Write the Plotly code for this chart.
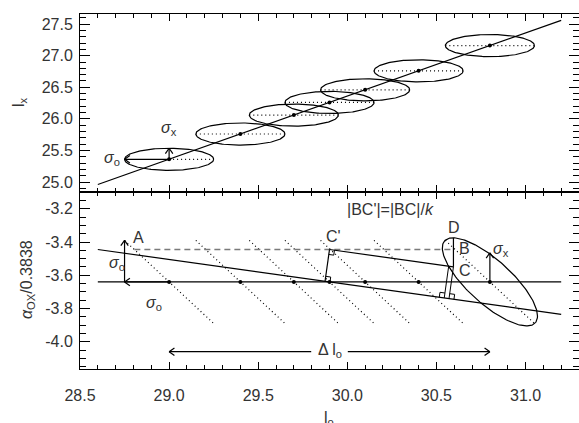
import numpy as np
import plotly.graph_objects as go

# ---------------------------------------------------------------- data
LO = [29.0, 29.4, 29.7, 29.9, 30.1, 30.4, 30.8]          # l_o of the sources
LX = [25.36, 25.76, 26.06, 26.26, 26.46, 26.76, 27.16]   # l_x of the sources
SIG_O = 0.25        # error on l_o
SIG_X = 0.175       # error on l_x
LINE_SPAN = [28.6, 31.2]       # extent of the drawn relations
FIT_SLOPE_BOT = -0.15          # slope of the alpha_ox / l_o regression
DASH_LEVEL = -3.445            # level of the dashed guide line
ELL_SEMI_LO = 0.267            # semi-axis of the tilted ellipse along l_o
ELL_SHEAR = 0.205              # tilt of the ellipse in alpha_ox / 0.3838
ELL_SEMI_X = 0.168             # l_x half-height of the tilted ellipse
DELTA_Y = -4.06                # level of the Delta l_o arrow

X_TICKS = [28.5, 29.0, 29.5, 30.0, 30.5, 31.0]
X_TICKTEXT = ["28.5", "29.0", "29.5", "30.0", "30.5", "31.0"]
YT_TICKS = [25.0, 25.5, 26.0, 26.5, 27.0, 27.5]
YT_TICKTEXT = ["25.0", "25.5", "26.0", "26.5", "27.0", "27.5"]
YB_TICKS = [-4.0, -3.8, -3.6, -3.4, -3.2]
YB_TICKTEXT = ["-4.0", "-3.8", "-3.6", "-3.4", "-3.2"]

# ---------------------------------------------------------------- layout geometry
W, H = 579, 423
ML, MR, MT, MB = 80, 0, 14, 54
PW, PH = W - ML - MR, H - MT - MB
XR = [28.5, 31.3]
YR_TOP = [24.85, 27.66]
YR_BOT = [-4.164, -3.096]

FONT = "Liberation Sans, Arial, sans-serif"
TXT = "#333333"
LW = 1.2


def xpx(x):
    return ML + (x - XR[0]) / (XR[1] - XR[0]) * PW


def pxx(p):
    return XR[0] + (p - ML) / PW * (XR[1] - XR[0])


def _panel(panel):
    if panel == "top":
        return YR_TOP, MT
    return YR_BOT, MT + PH / 2


def ypx(y, panel):
    (lo, hi), top = _panel(panel)
    return top + (hi - y) / (hi - lo) * (PH / 2)


def pxy(p, panel):
    (lo, hi), top = _panel(panel)
    return hi - (p - top) / (PH / 2) * (hi - lo)


def to_px(pt, panel):
    return np.array([xpx(pt[0]), ypx(pt[1], panel)])


def to_data(p, panel):
    return (pxx(p[0]), pxy(p[1], panel))


def arrow(p0, p1, panel, head=6.5, ang=np.radians(35)):
    """Shaft from p0 to p1 with an open arrowhead at p1 (data coords)."""
    a, b = to_px(p0, panel), to_px(p1, panel)
    d = (b - a) / np.linalg.norm(b - a)
    xs, ys = [p0[0], p1[0], None], [p0[1], p1[1], None]
    for s in (1, -1):
        c, sn = np.cos(s * ang), np.sin(s * ang)
        r = np.array([d[0] * c - d[1] * sn, d[0] * sn + d[1] * c])
        q = to_data(b - head * r, panel)
        xs += [p1[0], q[0], None]
        ys += [p1[1], q[1], None]
    return xs, ys


def right_angle(corner_px, u, v, panel, s=5.0):
    pts = [corner_px + s * u, corner_px + s * u + s * v, corner_px + s * v]
    dd = [to_data(p, panel) for p in pts]
    return [q[0] for q in dd] + [None], [q[1] for q in dd] + [None]


def seg(x0, y0, x1, y1):
    return [x0, x1, None], [y0, y1, None]


def add_line(fig, xs, ys, panel, color="black", width=LW, dash="solid"):
    xa, ya = ("x", "y") if panel == "top" else ("x2", "y2")
    fig.add_trace(go.Scatter(x=xs, y=ys, mode="lines", xaxis=xa, yaxis=ya,
                             line=dict(color=color, width=width, dash=dash),
                             hoverinfo="skip", showlegend=False))


fig = go.Figure()

lo = np.array(LO)
lx = np.array(LX)
aox = lx - lo                       # alpha_ox / 0.3838 = l_x - l_o
lo_mean, aox_mean = lo.mean(), aox.mean()
offset = aox_mean
t = np.linspace(0, 2 * np.pi, 181)

# ================================================================ top panel
span = np.array(LINE_SPAN)
add_line(fig, list(span), list(span + offset), "top")

ex, ey = [], []
for xo, yx in zip(LO, LX):
    ex += list(xo + SIG_O * np.cos(t)) + [None]
    ey += list(yx + SIG_X * np.sin(t)) + [None]
add_line(fig, ex, ey, "top")

dx, dy = [], []
for i, (xo, yx) in enumerate(zip(LO, LX)):
    x0 = xo if i == 0 else xo - SIG_O
    sx, sy = seg(x0, yx, xo + SIG_O, yx)
    dx += sx
    dy += sy
add_line(fig, dx, dy, "top", dash="1px,3px")

ax_, ay_ = arrow((LO[0], LX[0]), (LO[0] - SIG_O, LX[0]), "top")
add_line(fig, ax_, ay_, "top")
ax_, ay_ = arrow((LO[0], LX[0]), (LO[0], LX[0] + SIG_X), "top")
add_line(fig, ax_, ay_, "top")

fig.add_trace(go.Scatter(x=LO, y=LX, mode="markers", xaxis="x", yaxis="y",
                         marker=dict(color="black", size=4), hoverinfo="skip",
                         showlegend=False))

# ================================================================ bottom panel
def fit_bot(x):
    return aox_mean + FIT_SLOPE_BOT * (x - lo_mean)


def upper_line(x, x_start):
    return DASH_LEVEL + FIT_SLOPE_BOT * (x - x_start)


add_line(fig, list(span), [aox_mean, aox_mean], "bot")
add_line(fig, list(span), [fit_bot(span[0]), fit_bot(span[1])], "bot")

# slanted dotted tracks: a shift in l_o moves the point along slope -1
dx, dy = [], []
for xo, a in zip(LO, aox):
    sx, sy = seg(xo - SIG_O, a + SIG_O, xo + SIG_O, a - SIG_O)
    dx += sx
    dy += sy
add_line(fig, dx, dy, "bot", dash="1px,3px")

# tilted error ellipse of the last source
xc, ac = LO[-1], aox[-1]
ell_x = xc + ELL_SEMI_LO * np.cos(t)
ell_y = ac - ELL_SHEAR * np.cos(t) + ELL_SEMI_X * np.sin(t)
add_line(fig, list(ell_x), list(ell_y), "bot")

# top of the ellipse (D)
i_top = int(np.argmax(ell_y))
x_d, y_d = ell_x[i_top], ell_y[i_top]

# dashed guide from the first track to B
x_dash0 = LO[0] - (DASH_LEVEL - aox[0])
add_line(fig, [x_dash0, x_d], [DASH_LEVEL, DASH_LEVEL], "bot",
         color="#7a7a7a", width=1.6, dash="6px,4px")

# C' and the line parallel to the regression through it
x_cp = lo_mean
y_c = upper_line(x_d, x_cp)
add_line(fig, [x_cp, x_d], [DASH_LEVEL, y_c], "bot")

# where the parallel line crosses the ellipse edge (C)
mask = (np.cos(t) < 0) & (np.sin(t) < 0)
diff = ell_y - upper_line(ell_x, x_cp)
cand = np.where(mask)[0]
i_c = cand[np.argmin(np.abs(diff[cand]))]
x_c_ell = ell_x[i_c]
y_c_ell = upper_line(x_c_ell, x_cp)

# vertical D -> B -> C
add_line(fig, [x_d, x_d], [y_d, y_c], "bot")

# regression direction in pixel space
f1 = to_px((span[0], fit_bot(span[0])), "bot")
f2 = to_px((span[1], fit_bot(span[1])), "bot")
e_fit = (f2 - f1) / np.linalg.norm(f2 - f1)


def foot(p_px):
    return f1 + np.dot(p_px - f1, e_fit) * e_fit


# perpendicular from C' to the regression, with right-angle marks
cp_px = to_px((x_cp, DASH_LEVEL), "bot")
fcp = foot(cp_px)
qx, qy = to_data(fcp, "bot")
add_line(fig, [x_cp, qx], [DASH_LEVEL, qy], "bot")
up = (cp_px - fcp) / np.linalg.norm(cp_px - fcp)
sq_x, sq_y = right_angle(cp_px, e_fit, -up, "bot")
s2x, s2y = right_angle(fcp, e_fit, up, "bot")
add_line(fig, sq_x + s2x, sq_y + s2y, "bot", width=1.0)

# perpendiculars from C to the regression
pxs, pys = [], []
for (sx0, sy0), side in (((x_c_ell, y_c_ell), -1), ((x_d, y_c), 1)):
    p = to_px((sx0, sy0), "bot")
    f = foot(p)
    qx, qy = to_data(f, "bot")
    pxs += [sx0, qx, None]
    pys += [sy0, qy, None]
    upv = (p - f) / np.linalg.norm(p - f)
    rx, ry = right_angle(f, side * e_fit, upv, "bot")
    pxs += rx
    pys += ry
add_line(fig, pxs, pys, "bot", width=1.0)

# sigma arrows
x_a = LO[0] - SIG_O
ax_, ay_ = arrow((x_a, aox[0]), (x_a, aox[0] + SIG_O), "bot")
add_line(fig, ax_, ay_, "bot")
ax_, ay_ = arrow((LO[0], aox[0]), (x_a, aox[0]), "bot")
add_line(fig, ax_, ay_, "bot")
ax_, ay_ = arrow((LO[-1], aox[-1]), (LO[-1], aox[-1] + SIG_X), "bot")
add_line(fig, ax_, ay_, "bot")

# Delta l_o arrow, broken around its label
gap = pxx(ML + 18.3) - XR[0]
ax1, ay1 = arrow((lo_mean - gap, DELTA_Y), (LO[0], DELTA_Y), "bot")
ax2, ay2 = arrow((lo_mean + gap, DELTA_Y), (LO[-1], DELTA_Y), "bot")
add_line(fig, ax1 + ax2, ay1 + ay2, "bot")

fig.add_trace(go.Scatter(x=LO, y=list(aox), mode="markers", xaxis="x2", yaxis="y2",
                         marker=dict(color="black", size=4), hoverinfo="skip",
                         showlegend=False))

# ================================================================ text
ann = []


def label(text, x, y, panel, xs=0, ys=0, size=16, xanchor="center", yanchor="middle"):
    xa, ya = ("x", "y") if panel == "top" else ("x2", "y2")
    ann.append(dict(text=text, x=x, y=y, xref=xa, yref=ya, showarrow=False,
                    xshift=xs, yshift=ys, xanchor=xanchor, yanchor=yanchor,
                    font=dict(family=FONT, size=size, color=TXT)))


SIG_O_TXT = "<i>σ</i><sub>o</sub>"
SIG_X_TXT = "<i>σ</i><sub>x</sub>"

label(SIG_O_TXT, LO[0] - SIG_O, LX[0], "top", xs=-3, ys=1, xanchor="right")
label(SIG_X_TXT, LO[0], LX[0] + SIG_X, "top", xs=0, ys=20)

label("A", x_a, aox[0] + SIG_O, "bot", xs=14, ys=3)
label(SIG_O_TXT, x_a, aox[0] + SIG_O / 2, "bot", xs=-8, ys=-2)
label(SIG_O_TXT, LO[0], aox[0], "bot", xs=-15, ys=-22)
label("C'", x_cp, DASH_LEVEL, "bot", xs=4, ys=13)
label("D", x_d, y_d, "bot", xs=1, ys=10)
label("B", x_d, DASH_LEVEL, "bot", xs=11, ys=1)
label("C", x_d, y_c, "bot", xs=12, ys=-4)
label(SIG_X_TXT, LO[-1], aox[-1] + SIG_X, "bot", xs=11, ys=3)
label("|BC'|=|BC|/<i>k</i>", lo_mean + 0.34, YR_BOT[1], "bot", ys=-18)
label("Δ l<sub>o</sub>", lo_mean, DELTA_Y, "bot", ys=1)


def paper_label(text, px, py, size=16, angle=0):
    ann.append(dict(text=text, x=(px - ML) / PW, y=1 - (py - MT) / PH,
                    xref="paper", yref="paper", showarrow=False, textangle=angle,
                    xanchor="center", yanchor="middle",
                    font=dict(family=FONT, size=size, color=TXT)))


paper_label("l<sub>x</sub>", 19, 102, angle=-90)
paper_label("<i>α</i><sub>OX</sub>/0.3838", 27, 280, angle=-90)
paper_label("l<sub>o</sub>", 329, 418)

# ================================================================ axes
common = dict(showline=True, linecolor="black", linewidth=1, mirror="allticks",
              ticks="inside", tickcolor="black", tickwidth=1, showgrid=False,
              zeroline=False, tickfont=dict(family=FONT, size=16, color=TXT))

xcommon = dict(common, range=XR, tickmode="array", tickvals=X_TICKS, ticklen=7,
               minor=dict(tickmode="linear", tick0=28.5, dtick=0.1, ticklen=4,
                          ticks="inside", tickcolor="black", tickwidth=1))

fig.update_layout(
    width=W, height=H,
    margin=dict(l=ML, r=MR, t=MT, b=MB),
    paper_bgcolor="white", plot_bgcolor="white",
    xaxis=dict(xcommon, anchor="y", showticklabels=False, ticktext=X_TICKTEXT),
    xaxis2=dict(xcommon, anchor="y2", matches="x", ticktext=X_TICKTEXT,
                ticklabelstandoff=12),
    yaxis=dict(common, domain=[0.5, 1], anchor="x", range=YR_TOP,
               tickmode="array", tickvals=YT_TICKS, ticktext=YT_TICKTEXT,
               ticklen=10, ticklabelstandoff=3,
               minor=dict(tickmode="linear", tick0=25.0, dtick=0.1, ticklen=6,
                          ticks="inside", tickcolor="black", tickwidth=1)),
    yaxis2=dict(common, domain=[0, 0.5], anchor="x2", range=YR_BOT,
                tickmode="array", tickvals=YB_TICKS, ticktext=YB_TICKTEXT,
                ticklen=10, ticklabelstandoff=3,
                minor=dict(tickmode="linear", tick0=-4.0, dtick=0.05, ticklen=6,
                           ticks="inside", tickcolor="black", tickwidth=1)),
    annotations=ann,
)

fig.write_html("out.html")
